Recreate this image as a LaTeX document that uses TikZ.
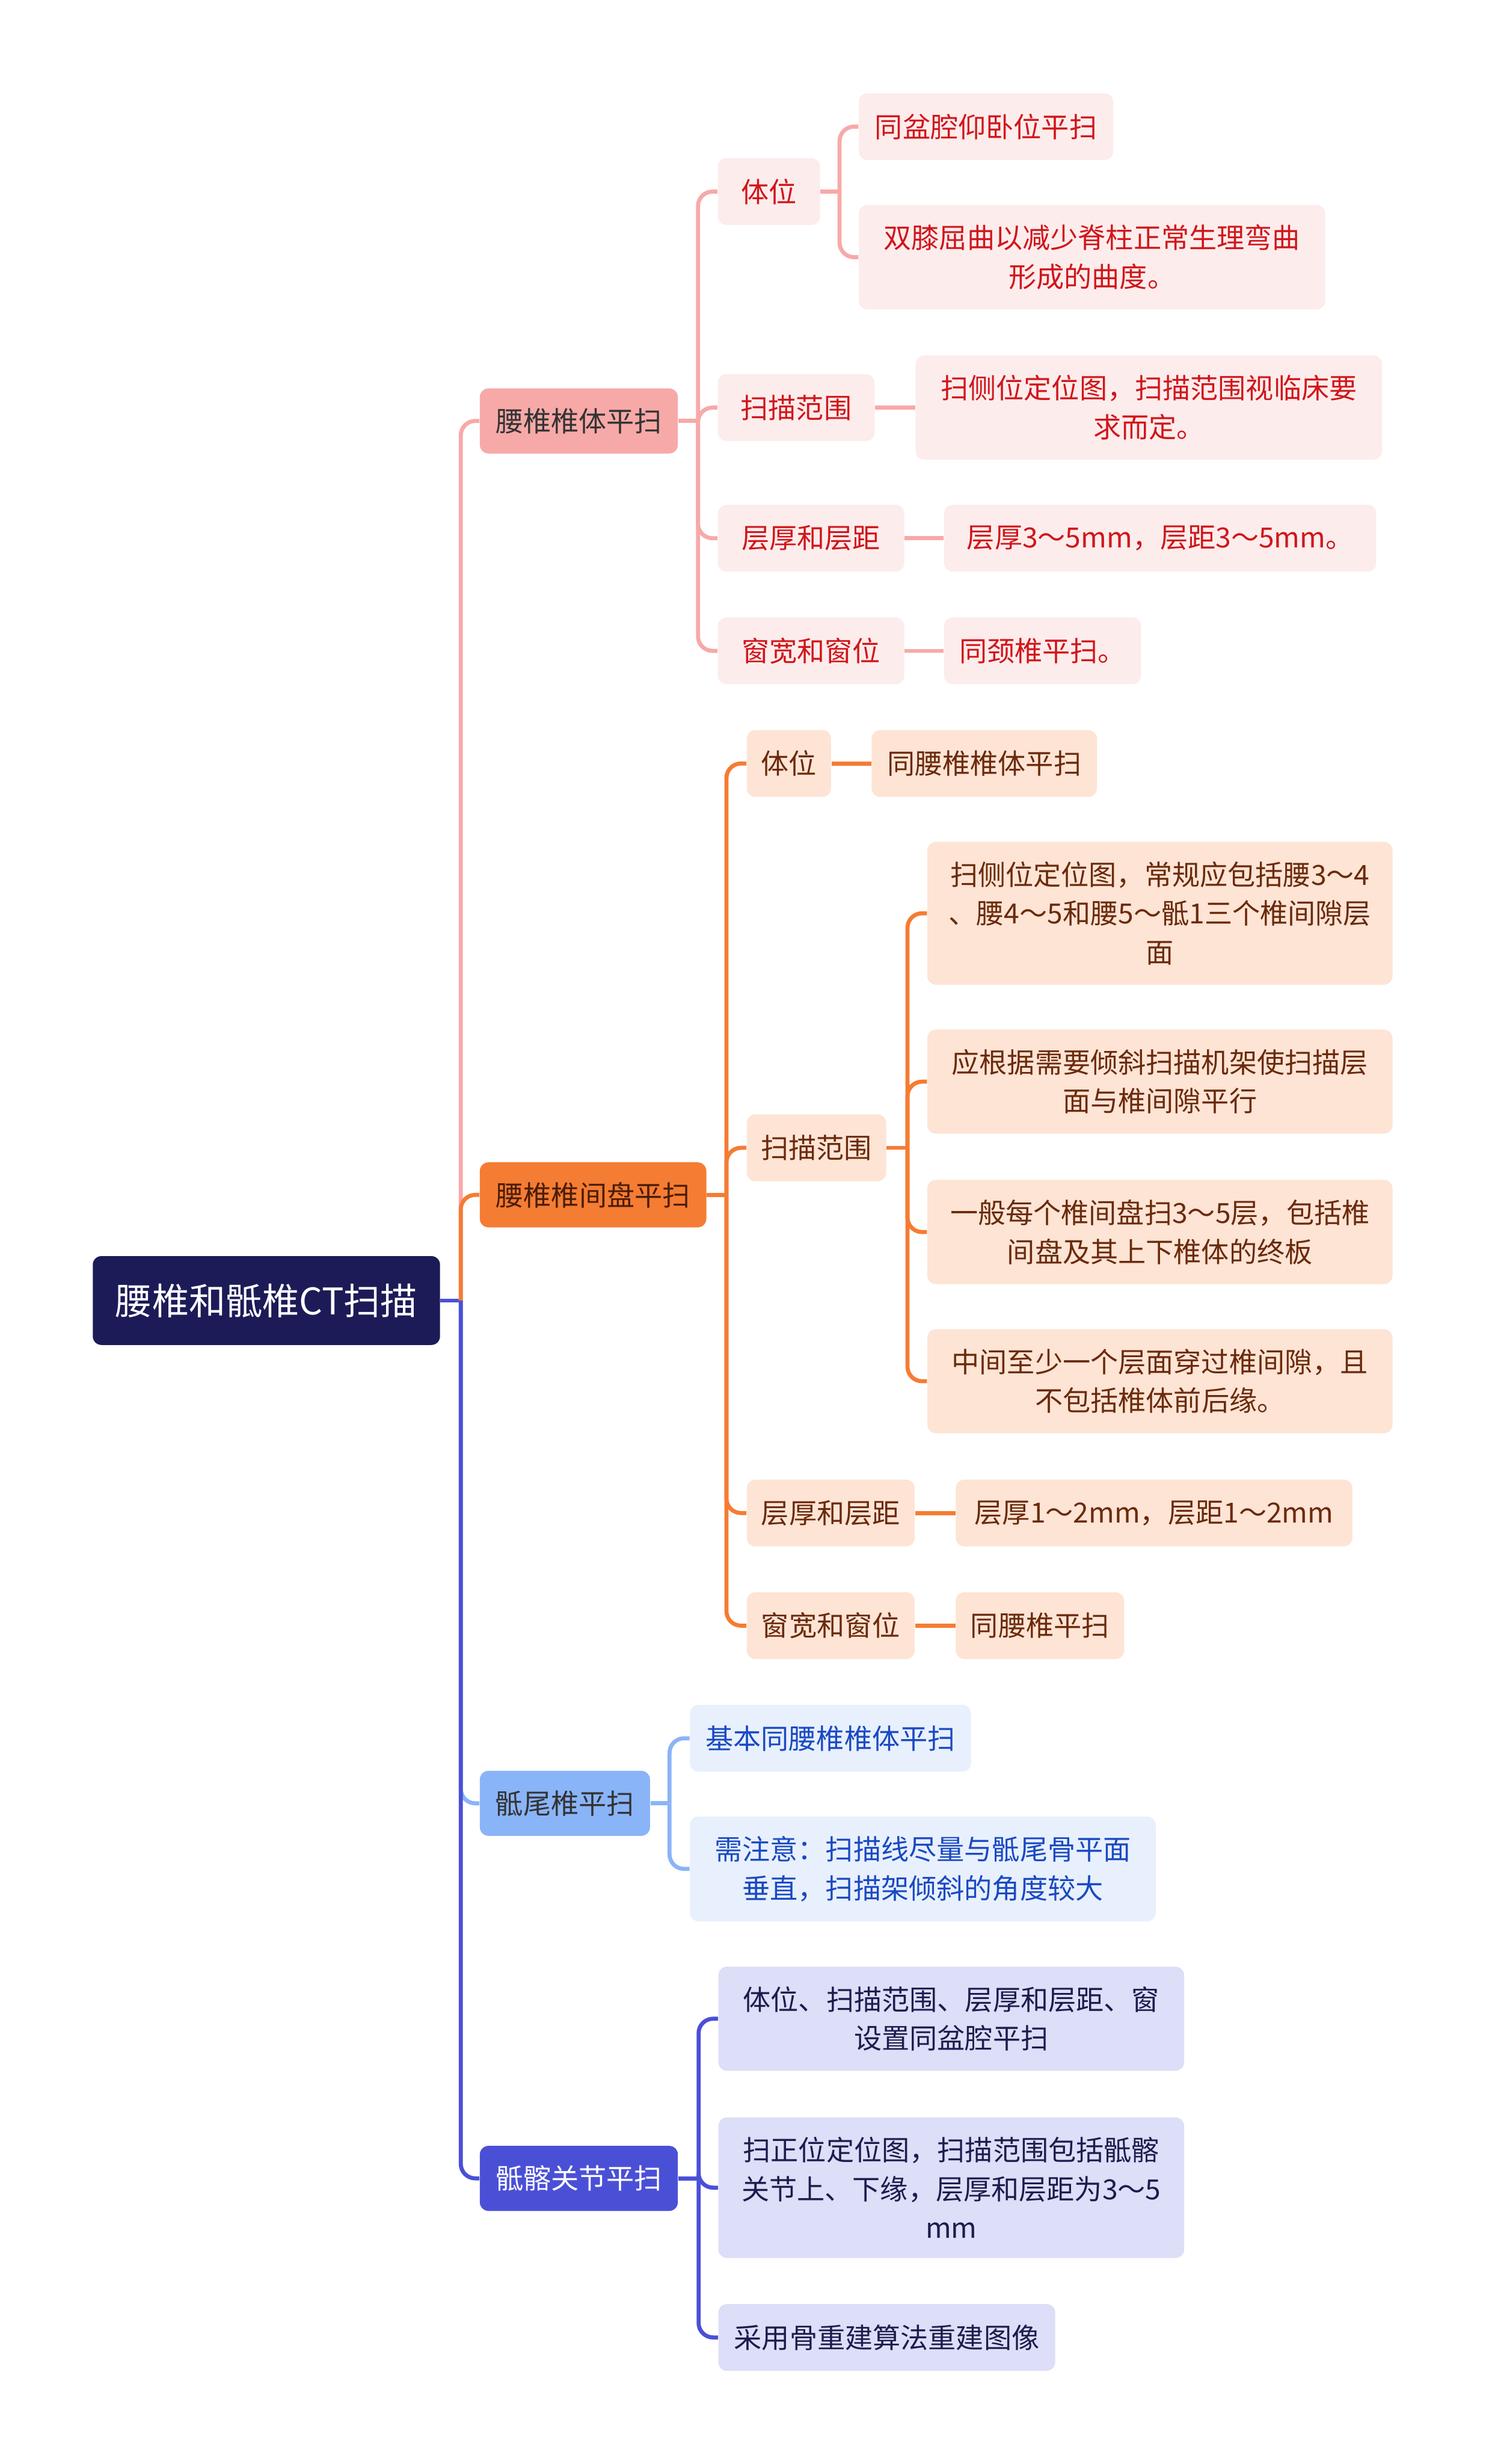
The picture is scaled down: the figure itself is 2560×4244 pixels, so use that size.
\documentclass[tikz,border=0pt]{standalone}
\usepackage{fontspec}
\setmainfont{Noto Sans CJK SC}
\definecolor{rootbg}{HTML}{1C1B57}
\definecolor{pinkline}{HTML}{F7A9A8}
\definecolor{pinkfill}{HTML}{FDECEC}
\definecolor{pinktext}{HTML}{D0161B}
\definecolor{orgline}{HTML}{F57C33}
\definecolor{orgfill}{HTML}{FDE4D5}
\definecolor{orgtext}{HTML}{6B2A0B}
\definecolor{skyline}{HTML}{8AB4F8}
\definecolor{skyfill}{HTML}{E8F0FD}
\definecolor{skytext}{HTML}{1A49C2}
\definecolor{indline}{HTML}{4A50D6}
\definecolor{indfill}{HTML}{DDDEF7}
\definecolor{indtext}{HTML}{1C1C4E}

\begin{document}
\begin{tikzpicture}[x=0.01cm, y=-0.01cm,
  box/.style={rounded corners=0.15cm, anchor=west, align=center, inner xsep=0pt, inner ysep=0.34cm,
    minimum height=1.15cm, font=\fontsize{13.6pt}{19pt}\selectfont},
  topic/.style={box, inner ysep=0pt, minimum height=1.12cm},
  pinkbox/.style={box, fill=pinkfill, text=pinktext},
  orgbox/.style={box, fill=orgfill, text=orgtext},
  skybox/.style={box, fill=skyfill, text=skytext},
  indbox/.style={box, fill=indfill, text=indtext},
  link/.style={line width=0.07cm, rounded corners=0.25cm}]
\fill[white] (0,0) rectangle (2560,4244);
\useasboundingbox (0,0) rectangle (2560,4244);

% Root
\node[rounded corners=0.15cm, fill=rootbg, text=white, minimum width=5.98cm, minimum height=1.53cm,
  font=\fontsize{18pt}{22pt}\selectfont] (root) at (459,2240) {腰椎和骶椎CT扫描};

% Main topics
\node[topic, fill=pinkline, text=black!80, minimum width=3.41cm] (body) at (826,725) {腰椎椎体平扫};
\node[topic, fill=orgline, text=orgtext!70!black, minimum width=3.9cm] (disc) at (826,2058) {腰椎椎间盘平扫};
\node[topic, fill=skyline, text=black!80, minimum width=2.93cm] (coccyx) at (826,3106) {骶尾椎平扫};
\node[topic, fill=indline, text=white, minimum width=3.41cm] (sacro) at (826,3752) {骶髂关节平扫};

% Lumbar vertebral body
\node[pinkbox, minimum width=1.76cm] (bpos) at (1236,330) {体位};
\node[pinkbox, minimum width=4.38cm] (bpos1) at (1479,218) {同盆腔仰卧位平扫};
\node[pinkbox, minimum width=8.03cm] (bpos2) at (1479,443) {双膝屈曲以减少脊柱正常生理弯曲\\形成的曲度。};
\node[pinkbox, minimum width=2.7cm] (brange) at (1236,702) {扫描范围};
\node[pinkbox, minimum width=8.03cm] (brange1) at (1577,702) {扫侧位定位图，扫描范围视临床要\\求而定。};
\node[pinkbox, minimum width=3.21cm] (bslice) at (1236,927) {层厚和层距};
\node[pinkbox, minimum width=7.44cm] (bslice1) at (1626,927) {层厚3～5mm，层距3～5mm。};
\node[pinkbox, minimum width=3.21cm] (bwin) at (1236,1121) {窗宽和窗位};
\node[pinkbox, minimum width=3.39cm] (bwin1) at (1626,1121) {同颈椎平扫。};

% Lumbar disc
\node[orgbox, minimum width=1.45cm] (dpos) at (1286,1315) {体位};
\node[orgbox, minimum width=3.88cm] (dpos1) at (1501,1315) {同腰椎椎体平扫};
\node[orgbox, minimum width=2.4cm] (drange) at (1286,1977) {扫描范围};
\node[orgbox, minimum width=8.01cm] (drange1) at (1597,1573) {扫侧位定位图，常规应包括腰3～4\\、腰4～5和腰5～骶1三个椎间隙层\\面};
\node[orgbox, minimum width=8.01cm] (drange2) at (1597,1863) {应根据需要倾斜扫描机架使扫描层\\面与椎间隙平行};
\node[orgbox, minimum width=8.01cm] (drange3) at (1597,2122) {一般每个椎间盘扫3～5层，包括椎\\间盘及其上下椎体的终板};
\node[orgbox, minimum width=8.01cm] (drange4) at (1597,2379) {中间至少一个层面穿过椎间隙，且\\不包括椎体前后缘。};
\node[orgbox, minimum width=2.89cm] (dslice) at (1286,2606) {层厚和层距};
\node[orgbox, minimum width=6.83cm] (dslice1) at (1646,2606) {层厚1～2mm，层距1～2mm};
\node[orgbox, minimum width=2.89cm] (dwin) at (1286,2800) {窗宽和窗位};
\node[orgbox, minimum width=2.9cm] (dwin1) at (1646,2800) {同腰椎平扫};

% Sacrum and coccyx
\node[skybox, minimum width=4.84cm] (cnote1) at (1188,2994) {基本同腰椎椎体平扫};
\node[skybox, minimum width=8.02cm] (cnote2) at (1188,3219) {需注意：扫描线尽量与骶尾骨平面\\垂直，扫描架倾斜的角度较大};

% Sacroiliac joint
\node[indbox, minimum width=8.02cm] (snote1) at (1237,3477) {体位、扫描范围、层厚和层距、窗\\设置同盆腔平扫};
\node[indbox, minimum width=8.02cm] (snote2) at (1237,3768) {扫正位定位图，扫描范围包括骶髂\\关节上、下缘，层厚和层距为3～5\\mm};
\node[indbox, minimum width=5.8cm] (snote3) at (1237,4026) {采用骨重建算法重建图像};

% Connectors from root
\draw[link, indline] (root.east) -- ++(35,0) coordinate (rbus);
\draw[link, pinkline] (rbus) |- (body.west);
\draw[link, orgline] (rbus) |- (disc.west);
\draw[link, skyline] (rbus) |- (coccyx.west);
\draw[link, indline] (rbus) |- (sacro.west);

% Connectors, vertebral body
\draw[link, pinkline] (body.east) -- ++(34,0) coordinate (bbus);
\foreach \c in {bpos,brange,bslice,bwin} \draw[link, pinkline] (bbus) |- (\c.west);
\draw[link, pinkline] (bpos.east) -- ++(33,0) coordinate (pbus);
\foreach \c in {bpos1,bpos2} \draw[link, pinkline] (pbus) |- (\c.west);
\draw[link, pinkline] (brange.east) -- (brange1.west);
\draw[link, pinkline] (bslice.east) -- (bslice1.west);
\draw[link, pinkline] (bwin.east) -- (bwin1.west);

% Connectors, disc
\draw[link, orgline] (disc.east) -- ++(34,0) coordinate (dbus);
\foreach \c in {dpos,drange,dslice,dwin} \draw[link, orgline] (dbus) |- (\c.west);
\draw[link, orgline] (drange.east) -- ++(36,0) coordinate (rgbus);
\foreach \c in {drange1,drange2,drange3,drange4} \draw[link, orgline] (rgbus) |- (\c.west);
\draw[link, orgline] (dpos.east) -- (dpos1.west);
\draw[link, orgline] (dslice.east) -- (dslice1.west);
\draw[link, orgline] (dwin.east) -- (dwin1.west);

% Connectors, sacrum and sacroiliac joint
\draw[link, skyline] (coccyx.east) -- ++(33,0) coordinate (cbus);
\foreach \c in {cnote1,cnote2} \draw[link, skyline] (cbus) |- (\c.west);
\draw[link, indline] (sacro.east) -- ++(35,0) coordinate (sbus);
\foreach \c in {snote1,snote2,snote3} \draw[link, indline] (sbus) |- (\c.west);
\end{tikzpicture}
\end{document}
